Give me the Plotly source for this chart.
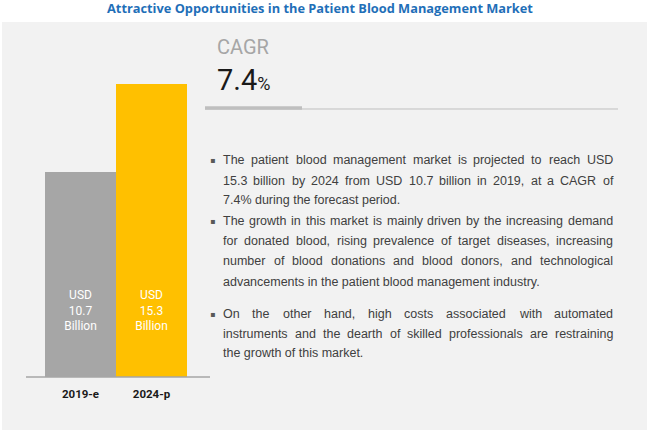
import plotly.graph_objects as go

# ---- data ----
years = ["2019-e", "2024-p"]
market_value = [10.7, 15.3]
bar_colors = ["#a6a6a6", "#ffc000"]
bar_labels = ["USD<br>10.7<br>Billion", "USD<br>15.3<br>Billion"]
cagr_value = "7.4"
title_text = "Attractive Opportunities in the Patient Blood Management Market"
bullets = [
    ["The patient blood management market is projected to reach USD",
     "15.3 billion by 2024 from USD 10.7 billion in 2019, at a CAGR of",
     "7.4% during the forecast period."],
    ["The growth in this market is mainly driven by the increasing demand",
     "for donated blood, rising prevalence of target diseases, increasing",
     "number of blood donations and blood donors, and technological",
     "advancements in the patient blood management industry."],
    ["On the other hand, high costs associated with automated",
     "instruments and the dearth of skilled professionals are restraining",
     "the growth of this market."],
]

W, H = 650, 433
def px(x):
    return x / W
def py(y):
    return 1 - y / H

# Arial / Liberation Sans advance widths (per 1000 em) for justification
AW = {' ': 278, '.': 278, ',': 278, '%': 889, '-': 333}
for c, w in zip("abcdefghijklmnopqrstuvwxyz",
                [556, 556, 500, 556, 556, 278, 556, 556, 222, 222, 500, 222, 833,
                 556, 556, 556, 556, 333, 500, 278, 556, 500, 722, 500, 500, 500]):
    AW[c] = w
for c, w in zip("ABCDEFGHIJKLMNOPQRSTUVWXYZ",
                [667, 667, 722, 722, 667, 611, 778, 722, 278, 500, 667, 556, 833,
                 722, 778, 667, 778, 722, 667, 611, 722, 667, 944, 667, 667, 611]):
    AW[c] = w
for c in "0123456789":
    AW[c] = 556

def text_w(s, size):
    return sum(AW.get(ch, 556) for ch in s) * size / 1000.0

fig = go.Figure()
fig.add_trace(go.Bar(
    x=years, y=market_value, marker=dict(color=bar_colors, line=dict(width=0)),
    hoverinfo="skip", width=1.0,
))
label_level = 3.4
fig.add_trace(go.Scatter(
    x=years, y=[label_level] * len(years), mode="text", text=bar_labels,
    textposition="middle center",
    textfont=dict(color="white", size=12, family="Roboto, Liberation Sans"),
    hoverinfo="skip",
))

shapes = [
    dict(type="rect", xref="paper", yref="paper", x0=px(2), x1=px(647), y0=py(430), y1=py(22),
         fillcolor="#f2f2f2", line=dict(width=0), layer="below"),
    dict(type="line", xref="paper", yref="paper", x0=px(26), x1=px(210), y0=py(377), y1=py(377),
         line=dict(color="#a6a6a6", width=1.5)),
    dict(type="line", xref="paper", yref="paper", x0=px(205), x1=px(618), y0=py(109), y1=py(109),
         line=dict(color="#bfbfbf", width=1)),
    dict(type="line", xref="paper", yref="paper", x0=px(205), x1=px(302), y0=py(108), y1=py(108),
         line=dict(color="#bfbfbf", width=3.5)),
]

annotations = [
    dict(text="<b>" + title_text + "</b>", xref="paper", yref="paper", x=px(320), y=py(8),
         showarrow=False, xanchor="center", yanchor="middle",
         font=dict(color="#1f6fb8", size=12.8, family="Open Sans, Liberation Sans")),
    dict(text="CAGR", xref="paper", yref="paper", x=px(216), y=py(47),
         showarrow=False, xanchor="left", yanchor="middle", borderpad=0,
         font=dict(color="#a6a6a6", size=20, family="Roboto, Liberation Sans")),
    dict(text=cagr_value + "<span style='font-size:18px'>%</span>", xref="paper", yref="paper",
         x=px(216), y=py(80), showarrow=False, xanchor="left", yanchor="middle", borderpad=0,
         font=dict(color="#1a1a1a", size=29, family="Roboto, Liberation Sans")),
]

FS = 12.5
X0, X1 = 222, 612
line_y = [[160, 181, 200], [221, 241, 261, 282], [314, 334, 353]]
for para, ys in zip(bullets, line_y):
    annotations.append(dict(text="▪", xref="paper", yref="paper", x=px(209), y=py(ys[0]),
                            showarrow=False, xanchor="left", yanchor="middle", borderpad=0,
                            font=dict(color="#595959", size=8, family="DejaVu Sans")))
    for i, (line, yy) in enumerate(zip(para, ys)):
        last = i == len(para) - 1
        words = line.split(" ")
        if last or len(words) < 2:
            annotations.append(dict(text=line, xref="paper", yref="paper", x=px(X0), y=py(yy),
                                    showarrow=False, xanchor="left", yanchor="middle", borderpad=0,
                                    font=dict(color="#404040", size=FS, family="Liberation Sans")))
            continue
        widths = [text_w(w, FS) for w in words]
        gap = (X1 - X0 - sum(widths)) / (len(words) - 1)
        xx = X0
        for w, ww in zip(words, widths):
            annotations.append(dict(text=w, xref="paper", yref="paper", x=px(xx), y=py(yy),
                                    showarrow=False, xanchor="left", yanchor="middle", borderpad=0,
                                    font=dict(color="#404040", size=FS, family="Liberation Sans")))
            xx += ww + gap

fig.update_layout(
    width=W, height=H, margin=dict(l=0, r=0, t=0, b=0),
    paper_bgcolor="white", plot_bgcolor="rgba(0,0,0,0)",
    bargap=0, showlegend=False,
    xaxis=dict(domain=[px(45), px(187)], showgrid=False, zeroline=False, showline=False,
               tickfont=dict(color="#1a1a1a", size=11.5, family="Roboto, Liberation Sans"),
               ticks="", ticklabelstandoff=8, fixedrange=True,
               tickprefix="<b>", ticksuffix="</b>"),
    yaxis=dict(domain=[1 - 377 / H, 1 - 84 / H], range=[0, 15.3], visible=False, fixedrange=True),
    shapes=shapes, annotations=annotations,
)

fig.write_html("out.html", post_script="document.body.style.margin='0px';",
               config={"displayModeBar": False})
